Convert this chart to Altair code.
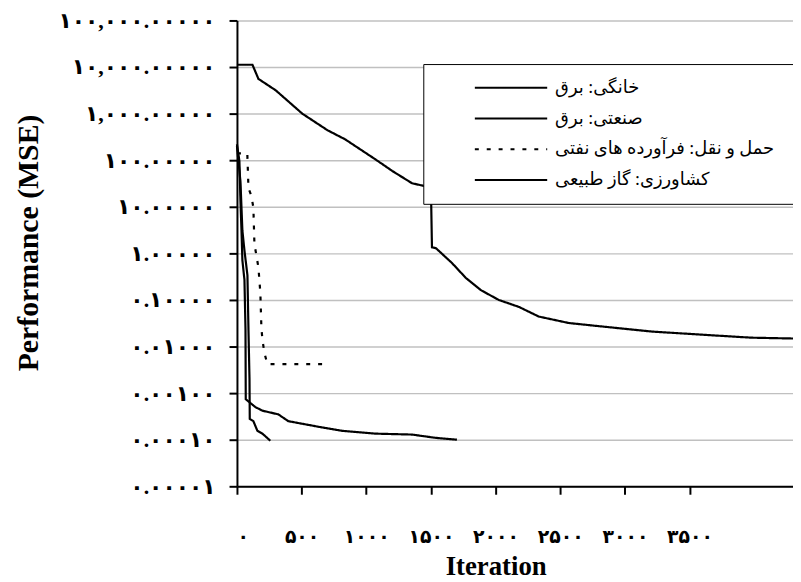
import altair as alt
import pandas as pd

# ---- data ----
series_names = ["خانگی: برق", "صنعتی: برق", "حمل و نقل: فرآورده های نفتی", "کشاورزی: گاز طبیعی"]

it_dom = [0, 120, 166, 300, 505, 700, 837, 1069, 1200, 1354, 1447, 1500, 1508, 1539, 1663, 1771,
          1887, 2025, 2180, 2334, 2566, 2820, 3206, 3592, 3978, 4340]
val_dom = [11200, 11200, 5560, 3160, 1000, 440, 280, 105, 59, 32, 28, 25, 1.35, 1.29, 0.62, 0.295,
           0.162, 0.1, 0.071, 0.044, 0.032, 0.027, 0.021, 0.018, 0.0155, 0.0148]

it_ind = [0, 19, 27, 35, 42, 58, 66, 68, 143, 197, 320, 397, 505, 629, 814, 1069, 1354, 1532, 1701]
val_ind = [220, 95, 13.5, 3.1, 0.71, 0.27, 0.023, 0.00074, 0.0005, 0.00042, 0.00035, 0.00025,
           0.00022, 0.00019, 0.000155, 0.000135, 0.000129, 0.00011, 0.0001]

it_tr = [0, 80, 89, 112, 127, 135, 150, 166, 181, 189, 197, 212, 235, 690]
val_tr = [140, 140, 25, 17, 9.5, 1.6, 0.91, 0.5, 0.14, 0.025, 0.014, 0.0074, 0.0042, 0.0042]

it_agr = [0, 27, 42, 58, 81, 89, 97, 99, 127, 158, 197, 258]
val_agr = [200, 35, 3.1, 1.15, 0.34, 0.023, 0.002, 0.00028, 0.00025, 0.000155, 0.000135, 0.000095]

y_ticks = [1e5, 1e4, 1e3, 1e2, 1e1, 1.0, 0.1, 0.01, 0.001, 0.0001, 0.00001]
y_tick_labels = ["۱۰۰,۰۰۰.۰۰۰۰۰", "۱۰,۰۰۰.۰۰۰۰۰", "۱,۰۰۰.۰۰۰۰۰", "۱۰۰.۰۰۰۰۰", "۱۰.۰۰۰۰۰",
                 "۱.۰۰۰۰۰", "۰.۱۰۰۰۰", "۰.۰۱۰۰۰", "۰.۰۰۱۰۰", "۰.۰۰۰۱۰", "۰.۰۰۰۰۱"]
x_ticks = [0, 500, 1000, 1500, 2000, 2500, 3000, 3500]
x_tick_labels = ["۰", "۵۰۰", "۱۰۰۰", "۱۵۰۰", "۲۰۰۰", "۲۵۰۰", "۳۰۰۰", "۳۵۰۰"]

rows = []
for name, its, vals in zip(series_names, [it_dom, it_ind, it_tr, it_agr],
                           [val_dom, val_ind, val_tr, val_agr]):
    for i, (a, b) in enumerate(zip(its, vals)):
        rows.append({"series": name, "iter": a, "mse": b, "order": i})
df = pd.DataFrame(rows)

def lookup_expr(values, labels):
    return ("[" + ",".join("'" + s + "'" for s in labels) + "][indexof(["
            + ",".join(repr(v) for v in values) + "], datum.value)]")

serif = "Liberation Serif, Times New Roman, serif"
fa = "Times New Roman, DejaVu Sans, sans-serif"

chart = alt.Chart(df).mark_line(color="black", strokeWidth=2.2).encode(
    x=alt.X("iter:Q",
            scale=alt.Scale(domain=[0, 4300], nice=False),
            axis=alt.Axis(values=x_ticks, labelExpr=lookup_expr(x_ticks, x_tick_labels),
                          grid=False, domainColor="black", domainWidth=2,
                          tickColor="black", tickWidth=2, tickSize=8,
                          labelFont=fa, labelFontSize=19, labelFontWeight="bold",
                          labelPadding=34, labelColor="black",
                          title="Iteration", titleFont=serif, titleFontSize=27,
                          titleFontWeight="bold", titleColor="black",
                          titleX=261, titleY=89, titleBaseline="alphabetic")),
    y=alt.Y("mse:Q",
            scale=alt.Scale(type="log", domain=[1e-5, 1e5], nice=False),
            axis=alt.Axis(values=y_ticks, labelExpr=lookup_expr(y_ticks, y_tick_labels),
                          grid=True, gridColor="#c0c0c0", gridWidth=1.5,
                          domainColor="black", domainWidth=2,
                          tickColor="black", tickWidth=2, tickSize=8,
                          labelFont=fa, labelFontSize=22, labelFontWeight="bold",
                          labelPadding=14, labelColor="black",
                          title="Performance (MSE)", titleFont=serif, titleFontSize=30,
                          titleFontWeight="bold", titleColor="black",
                          titleX=-210, titleY=224, titleAngle=-90,
                          titleAlign="center", titleBaseline="middle")),
    strokeDash=alt.StrokeDash("series:N",
                              scale=alt.Scale(domain=series_names,
                                              range=[[1, 0], [1, 0], [4, 8], [1, 0]]),
                              legend=alt.Legend(orient="none", legendX=188, legendY=44,
                                                title=".", titleOrient="right",
                                                titleColor="white", titleOpacity=0,
                                                titleFontSize=10, titlePadding=14,
                                                symbolType="stroke", symbolSize=5329,
                                                symbolStrokeWidth=2, symbolStrokeColor="black",
                                                clipHeight=20, rowPadding=11,
                                                symbolOffset=37, labelOffset=7,
                                                labelFont=fa, labelFontSize=18,
                                                labelColor="black", labelLimit=400,
                                                padding=14, fillColor="white",
                                                strokeColor="black")),
    order="order:Q",
    detail="series:N",
).properties(
    width=561, height=470,
    autosize=alt.AutoSizeParams(type="none"),
    padding={"left": 231, "top": 10, "right": 0, "bottom": 95},
    background="white",
).configure_view(stroke=None)

chart.save("out.html", embed_options={"renderer": "svg", "actions": False})
